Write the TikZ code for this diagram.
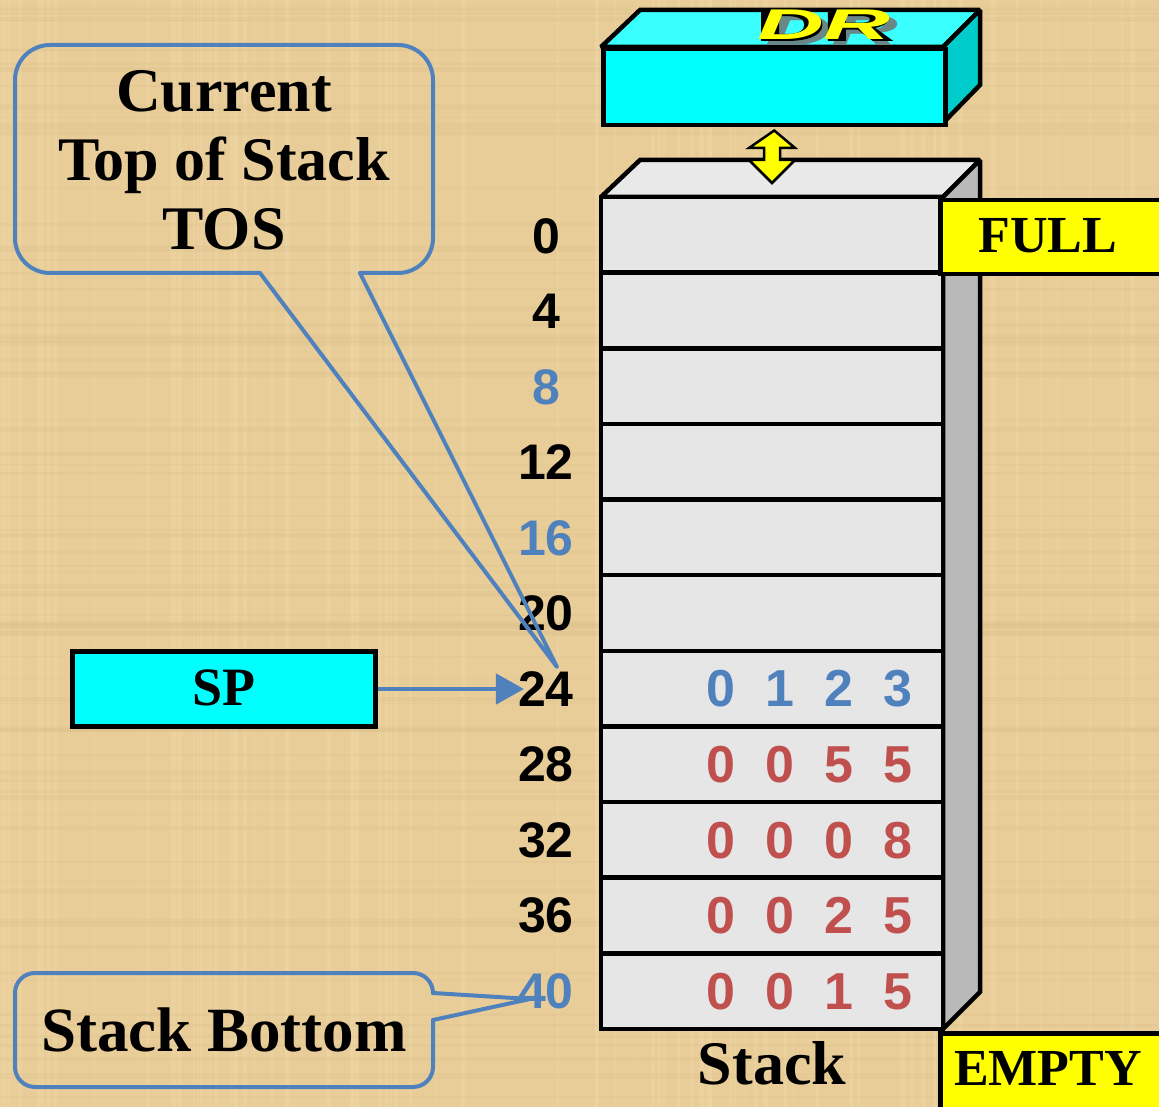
\documentclass[tikz,border=0pt]{standalone}
\usepackage{fontspec}
\setmainfont{Liberation Serif}
\newfontfamily\arialfam{Liberation Sans}
\newfontfamily\drthick{Liberation Sans Bold Italic}[FakeBold=5]
\usetikzlibrary{arrows.meta,calc}
\definecolor{bgc}{HTML}{E8CD98}
\definecolor{bglight}{HTML}{F2DDB0}
\definecolor{bgdark}{HTML}{D9BC85}
\definecolor{cyanc}{HTML}{00FFFF}
\definecolor{drtop}{HTML}{3AFFFF}
\definecolor{drside}{HTML}{00CCCC}
\definecolor{cellc}{HTML}{E6E6E6}
\definecolor{stopc}{HTML}{E9E9E9}
\definecolor{ssidec}{HTML}{B9B9B9}
\definecolor{lblue}{HTML}{4F81BD}
\definecolor{dred}{HTML}{C0504D}
\definecolor{yel}{HTML}{FFFF00}
\definecolor{shad}{HTML}{6A8787}
\begin{document}
\begin{tikzpicture}[x=1pt,y=-1pt,
  edge/.style={line width=4.5pt, draw=black, line join=miter, miter limit=2},
  cell/.style={edge, fill=cellc, minimum width=342pt, minimum height=75.6pt, inner sep=0pt},
  lab/.style={font=\arialfam\bfseries\fontsize{50}{50}\selectfont, inner sep=0pt},
  dig/.style={font=\arialfam\bfseries\fontsize{52}{52}\selectfont, inner sep=0pt},
  serifb/.style={font=\bfseries\fontsize{62}{69}\selectfont, align=center, inner sep=0pt},
  tagtext/.style={font=\bfseries\fontsize{52}{52}\selectfont, inner sep=0pt},
  call/.style={draw=lblue, line width=4pt, line join=round, line cap=round},
  tagbox/.style={edge, fill=yel, inner sep=0pt, anchor=north west, minimum width=240pt},
  drfont/.style={font=\arialfam\bfseries\itshape\fontsize{43}{43}\selectfont, inner sep=0pt}
]
\fill[bgc] (0,0) rectangle (1159,1107);
\useasboundingbox (0,0) rectangle (1159,1107);
% parchment texture
\pgfmathsetseed{11}
\foreach \k in {1,...,90} {
  \pgfmathsetmacro\xx{rnd*1159}
  \pgfmathsetmacro\ww{0.5+rnd*5}
  \fill[bglight, opacity=0.25] (\xx,0) rectangle ++(\ww,1107);
}
\foreach \k in {1,...,90} {
  \pgfmathsetmacro\yy{rnd*1107}
  \pgfmathsetmacro\ww{0.5+rnd*5}
  \fill[bgdark, opacity=0.2] (0,\yy) rectangle ++(1159,\ww);
}

% ---- DR register (3D box)
\filldraw[edge, fill=drtop] (601,47) -- (640,10) -- (980,10) -- (943,47) -- cycle;
\filldraw[edge, fill=drside] (943,47) -- (980,10) -- (980,85) -- (943,123) -- cycle;
\node[edge, fill=cyanc, minimum width=342pt, minimum height=76pt, inner sep=0pt, anchor=north west] (dr) at (601,47) {};
\node[drfont, text=shad] (drshadow) at (832,31) {\scalebox{2.15}[1]{DR}};
\node[drfont, text=black] (droutline) at (824,25) {\scalebox{2.15}[1]{\drthick DR}};
\node[drfont, text=yel] (drlabel) at (824,25) {\scalebox{2.15}[1]{DR}};

% ---- Stack (3D)
\filldraw[edge, fill=stopc] (601,197) -- (640,160) -- (980,160) -- (943,197) -- cycle;
\filldraw[edge, fill=ssidec] (943,197) -- (980,160) -- (980,992) -- (943,1029) -- cycle;
\foreach \i in {0,...,10}
  \node[cell] (r\i) at (772,{197+75.64*\i+37.82}) {};
\coordinate (stacktop) at (772,183);

% ---- double arrow between DR and stack
\filldraw[fill=yel, draw=black, line width=2.5pt, line join=miter]
  ($(dr.south)+(0,3)$) -- (795,148) -- (780,148) -- (780,160) -- (795,160)
  -- (stacktop) -- (749,160) -- (764,160) -- (764,148) -- (749,148) -- cycle;

% ---- FULL / EMPTY tags
\node[tagbox, minimum height=74pt] (fullbox) at (938,198) {};
\node[tagtext] (full) at (1048,236) {FULL};
\node[tagbox, minimum height=90pt] (emptybox) at (938,1031) {};
\node[tagtext] (empty) at (1048,1068) {EMPTY};

% ---- address labels
\foreach \v/\col [count=\i from 0] in {0/black,4/black,8/lblue,12/black,16/lblue,20/black,24/black,28/black,32/black,36/black,40/lblue}
  \node[lab, text=\col] (l\v) at (546,{236+75.5*\i}) {\v};

% ---- stack contents
\foreach \rw/\col/\da/\db/\dc/\dd in {6/lblue/0/1/2/3, 7/dred/0/0/5/5, 8/dred/0/0/0/8, 9/dred/0/0/2/5, 10/dred/0/0/1/5} {
  \node[dig, text=\col] (v\rw a) at (721,{235+75.64*\rw}) {\da};
  \node[dig, text=\col] (v\rw b) at (780,{235+75.64*\rw}) {\db};
  \node[dig, text=\col] (v\rw c) at (839,{235+75.64*\rw}) {\dc};
  \node[dig, text=\col] (v\rw d) at (898,{235+75.64*\rw}) {\dd};
}

\node[serifb] (stacklbl) at (772,1063) {Stack};

% ---- SP register
\node[edge, fill=cyanc, minimum width=303pt, minimum height=75pt, inner sep=0pt] (sp) at (224,689) {};
\node[tagtext, font=\bfseries\fontsize{54}{54}\selectfont] (sptext) at (224,688) {SP};
\draw[draw=lblue, line width=4.5pt, -{Triangle[length=28pt,width=30pt]}, shorten >=-6pt] (sp.east) -- (l24.west);

% ---- callout: current top of stack
\node[serifb] (tos) at (224,160) {Current\\Top of Stack\\TOS};
\coordinate (tip1) at (557,667);
\draw[call, rounded corners=35pt] (360,273) -- (433,273) -- (433,45) -- (15,45) -- (15,273) -- (260,273);
\draw[call] (260,273) -- (tip1) -- (360,273);

% ---- callout: stack bottom
\node[serifb, font=\bfseries\fontsize{63}{63}\selectfont] (sb) at (224,1030) {Stack Bottom};
\coordinate (tip2) at (530,999);
\draw[call, rounded corners=20pt] (433,993) -- (433,973) -- (15,973) -- (15,1087) -- (433,1087) -- (433,1020);
\draw[call] (433,993) -- (tip2) -- (433,1020);
\end{tikzpicture}
\end{document}
